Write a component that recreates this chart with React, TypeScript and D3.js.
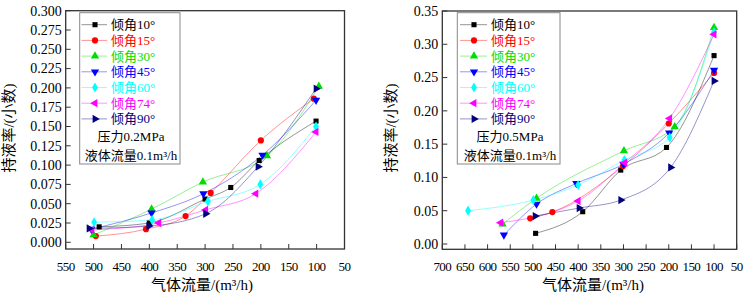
import React from 'react';
import * as d3 from 'd3';

type P = [number, number];

const angleLabels = ['倾角10°', '倾角15°', '倾角30°', '倾角45°', '倾角60°', '倾角74°', '倾角90°'];
const seriesColors = ['#000000', '#ff0000', '#00dd00', '#0000ff', '#00ffff', '#ff00ff', '#000080'];
const markerShapes = ['square', 'circle', 'up', 'down', 'diamond', 'left', 'right'];

// Left panel: pressure 0.2 MPa
const left10: P[] = [[490, 0.020], [400, 0.025], [300, 0.056], [254, 0.071], [203, 0.106], [101, 0.157]];
const left15: P[] = [[496, 0.008], [406, 0.017], [335, 0.034], [290, 0.064], [200, 0.132], [105, 0.186]];
const left30: P[] = [[500, 0.0095], [396, 0.043], [304, 0.078], [189, 0.112], [96, 0.202]];
const left45: P[] = [[504, 0.017], [396, 0.038], [303, 0.063], [197, 0.113], [101, 0.184]];
const left60: P[] = [[499, 0.026], [395, 0.029], [295, 0.053], [201, 0.075], [101, 0.150]];
const left74: P[] = [[503, 0.016], [383, 0.025], [299, 0.042], [209, 0.063], [101, 0.143]];
const left90: P[] = [[508, 0.018], [401, 0.021], [299, 0.037], [205, 0.098], [101, 0.199]];

// Right panel: pressure 0.5 MPa
const right10: P[] = [[494, 0.016], [390, 0.0485], [306, 0.111], [205, 0.145], [100, 0.283]];
const right15: P[] = [[506, 0.0386], [457, 0.048], [301, 0.117], [200, 0.181], [100, 0.257]];
const right30: P[] = [[567, 0.030], [492, 0.0686], [299, 0.140], [187, 0.176], [100, 0.325]];
const right45: P[] = [[564, 0.0135], [492, 0.060], [404, 0.091], [300, 0.120], [199, 0.167], [100, 0.261]];
const right60: P[] = [[643, 0.050], [499, 0.066], [400, 0.0886], [298, 0.126], [198, 0.160], [100, 0.318]];
const right74: P[] = [[571, 0.032], [400, 0.0646], [297, 0.122], [198, 0.1887], [100, 0.315]];
const right90: P[] = [[495, 0.042], [398, 0.054], [306, 0.066], [196, 0.115], [100, 0.245]];

const leftSeries = [left10, left15, left30, left45, left60, left74, left90];
const rightSeries = [right10, right15, right30, right45, right60, right74, right90];

const leftXTicks = [550, 500, 450, 400, 350, 300, 250, 200, 150, 100, 50];
const rightXTicks = [700, 650, 600, 550, 500, 450, 400, 350, 300, 250, 200, 150, 100, 50];
const leftYTicks = [0, 0.025, 0.05, 0.075, 0.1, 0.125, 0.15, 0.175, 0.2, 0.225, 0.25, 0.275, 0.3];
const rightYTicks = [0, 0.05, 0.1, 0.15, 0.2, 0.25, 0.3, 0.35];

const xTitle = '气体流量/(m³/h)';
const yTitle = '持液率/(小数)';
const leftNotes = ['压力0.2MPa', '液体流量0.1m³/h'];
const rightNotes = ['压力0.5MPa', '液体流量0.1m³/h'];

const FONT = '"Liberation Serif", "Times New Roman", "Noto Sans CJK SC", serif';

function Marker({ shape, x, y, color }: { shape: string; x: number; y: number; color: string }) {
  let type: any = d3.symbolTriangle;
  let size = 30;
  let rot = 0;
  if (shape === 'square') { type = d3.symbolSquare; size = 26; }
  else if (shape === 'circle') { type = d3.symbolCircle; size = 30; }
  else if (shape === 'diamond') { type = d3.symbolDiamond; size = 30; }
  else if (shape === 'down') rot = 180;
  else if (shape === 'left') rot = -90;
  else if (shape === 'right') rot = 90;
  const path = d3.symbol().type(type).size(size)() as string;
  return <path d={path} transform={`translate(${x},${y}) rotate(${rot})`} fill={color} stroke="none" />;
}

interface PanelProps {
  series: P[][];
  xDomain: [number, number];
  xRange: [number, number];
  yMaxVal: number;
  yRange: [number, number];
  frameTop: number;
  frameBottom: number;
  xTicks: number[];
  yTicks: number[];
  yFmt: string;
  legendBox: [number, number, number, number];
  legendLine: [number, number, number];
  notes: string[];
  noteX: number;
  yTitleX: number;
  xTitleX: number;
}

function Panel(p: PanelProps) {
  const x = d3.scaleLinear().domain(p.xDomain).range(p.xRange);
  const y = d3.scaleLinear().domain([0, p.yMaxVal]).range(p.yRange);
  const fmt = d3.format(p.yFmt);
  const [fl, fr] = p.xRange;
  const ft = p.frameTop;
  const fb = p.frameBottom;
  const [lbx, lby, lbw, lbh] = p.legendBox;
  const [l0, lm, l1] = p.legendLine;
  const rowY = (i: number) => lby + 12 + i * 15.7;
  return (
    <g>
      {p.series.map((s, i) => {
        const pts = [...s].sort((a, b) => x(a[0]) - x(b[0]));
        const line = d3.line<P>().x(d => x(d[0])).y(d => y(d[1])).curve(d3.curveMonotoneX);
        return (
          <path key={'l' + i} d={line(pts) as string} fill="none" stroke={seriesColors[i]}
            strokeOpacity={0.42} strokeWidth={1} />
        );
      })}
      {p.series.map((s, i) => s.map((d, j) => (
        <Marker key={'m' + i + '_' + j} shape={markerShapes[i]} x={x(d[0])} y={y(d[1])} color={seriesColors[i]} />
      )))}
      <rect x={fl} y={ft} width={fr - fl} height={fb - ft} fill="none" stroke="#333" strokeWidth={1.3} />
      {p.yTicks.map(t => (
        <g key={'yt' + t}>
          <line x1={fl} x2={fl + 5} y1={y(t)} y2={y(t)} stroke="#333" strokeWidth={1} />
          <text x={fl - 4} y={y(t) + 4.8} textAnchor="end" fontSize={14} fontFamily={FONT}>{fmt(t)}</text>
        </g>
      ))}
      {p.xTicks.map(t => (
        <g key={'xt' + t}>
          <line x1={x(t)} x2={x(t)} y1={fb} y2={fb - 5} stroke="#333" strokeWidth={1} />
          <text x={x(t)} y={271} textAnchor="middle" fontSize={13} letterSpacing={-0.6} fontFamily={FONT}>{t}</text>
        </g>
      ))}
      <text x={p.xTitleX} y={290} textAnchor="middle" fontSize={15} fontFamily={FONT}>{xTitle}</text>
      <text transform={`translate(${p.yTitleX},128) rotate(-90)`} textAnchor="middle" fontSize={15} fontFamily={FONT}>{yTitle}</text>
      <rect x={lbx} y={lby} width={lbw} height={lbh} fill="#fff" stroke="#888" strokeWidth={1} />
      {angleLabels.map((lab, i) => (
        <g key={'lg' + i}>
          <line x1={l0} x2={l1} y1={rowY(i)} y2={rowY(i)} stroke={seriesColors[i]} strokeOpacity={0.42} strokeWidth={1} />
          <Marker shape={markerShapes[i]} x={lm} y={rowY(i)} color={seriesColors[i]} />
          <text x={l1 + 4} y={rowY(i) + 4.5} fontSize={13} fill={seriesColors[i]} fontFamily={FONT}>{lab}</text>
        </g>
      ))}
      <text x={p.noteX} y={lby + 128.5} textAnchor="middle" fontSize={13} fontFamily={FONT}>{p.notes[0]}</text>
      <text x={p.noteX} y={lby + 147} textAnchor="middle" fontSize={13} fontFamily={FONT}>{p.notes[1]}</text>
    </g>
  );
}

export default function App() {
  return (
    <svg width={746} height={297} style={{ position: 'absolute', left: 0, top: 0, background: '#fff' }}>
      <Panel
        series={leftSeries}
        xDomain={[550, 50]}
        xRange={[65.7, 344.5]}
        yMaxVal={0.3}
        yRange={[242.3, 10.7]}
        frameTop={10.7}
        frameBottom={249}
        xTicks={leftXTicks}
        yTicks={leftYTicks}
        yFmt=".3f"
        legendBox={[79.7, 12.7, 100.3, 151.3]}
        legendLine={[81.5, 95, 107]}
        notes={leftNotes}
        noteX={131}
        yTitleX={14}
        xTitleX={202}
      />
      <Panel
        series={rightSeries}
        xDomain={[700, 50]}
        xRange={[442.3, 736.7]}
        yMaxVal={0.35}
        yRange={[244, 11]}
        frameTop={11}
        frameBottom={249.3}
        xTicks={rightXTicks}
        yTicks={rightYTicks}
        yFmt=".2f"
        legendBox={[457.3, 12.7, 102.7, 151.3]}
        legendLine={[460, 474, 487]}
        notes={rightNotes}
        noteX={510}
        yTitleX={396}
        xTitleX={593}
      />
    </svg>
  );
}
